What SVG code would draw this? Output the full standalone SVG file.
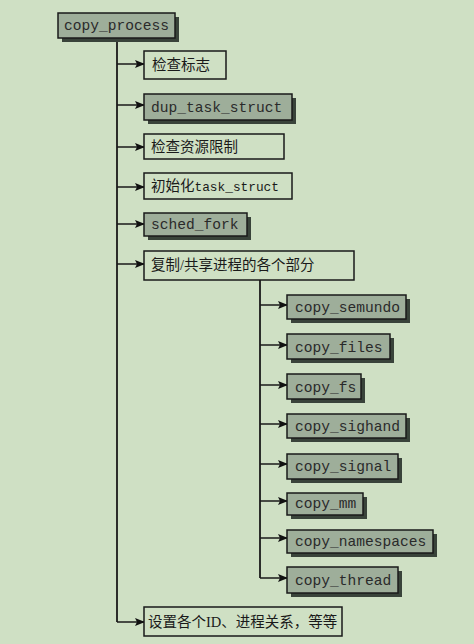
<svg xmlns="http://www.w3.org/2000/svg" width="474" height="644" viewBox="0 0 474 644">
<defs>
<marker id="ah" markerWidth="10" markerHeight="8" refX="9" refY="4" orient="auto" markerUnits="userSpaceOnUse">
<path d="M0,0 L10,4 L0,8 L2,4 Z" fill="#111"/>
</marker>
</defs>
<style>
.bg{fill:#cfe0c4}
.g{fill:#9eae9a;stroke:#1a1a1a;stroke-width:1.5}
.w{fill:#cfe0c4;stroke:#1a1a1a;stroke-width:1.5}
.sh{fill:#39433a}
.m{font-family:"Liberation Mono","Courier New",monospace;font-size:14.6px;fill:#2a2a2a}
.c{font-family:"Liberation Serif","Noto Sans CJK SC",serif;font-size:14.5px;fill:#1a1a1a}
.cm{font-family:"Liberation Mono",monospace;font-size:12.8px}
.e{fill:none;stroke:#1a1a1a;stroke-width:1.8}
.a{fill:none;stroke:#1a1a1a;stroke-width:1.5;marker-end:url(#ah)}
</style>
<rect class="bg" x="0" y="0" width="474" height="644"/>
<g id="connectors">
<path class="e" d="M117,38 V622"/>
<path class="a" d="M117,64 H144"/>
<path class="a" d="M117,105 H144"/>
<path class="a" d="M117,147 H144"/>
<path class="a" d="M117,187 H144"/>
<path class="a" d="M117,224 H144"/>
<path class="a" d="M117,264 H144"/>
<path class="a" d="M117,622 H144"/>
<path class="e" d="M260,280 V578"/>
<path class="a" d="M260,305 H287"/>
<path class="a" d="M260,345 H287"/>
<path class="a" d="M260,385 H287"/>
<path class="a" d="M260,424 H287"/>
<path class="a" d="M260,464 H287"/>
<path class="a" d="M260,501 H287"/>
<path class="a" d="M260,538 H287"/>
<path class="a" d="M260,578 H287"/>
</g>
<g id="copy_process">
<rect class="sh" x="62" y="17" width="117" height="25"/>
<rect class="g" x="58" y="13" width="117" height="25"/>
<text class="m" x="116.5" y="30" text-anchor="middle">copy_process</text>
</g>
<g id="check_flags">
<rect class="w" x="144" y="51" width="82" height="28"/>
<text class="c" x="152" y="70">检查标志</text>
</g>
<g id="dup_task_struct">
<rect class="sh" x="148" y="98" width="148" height="26"/>
<rect class="g" x="144" y="94" width="148" height="26"/>
<text class="m" x="151" y="112">dup_task_struct</text>
</g>
<g id="check_limits">
<rect class="w" x="144" y="134" width="140" height="25"/>
<text class="c" x="151" y="152">检查资源限制</text>
</g>
<g id="init_task_struct">
<rect class="w" x="144" y="173" width="148" height="26"/>
<text class="c" x="151" y="191">初始化<tspan class="cm">task_struct</tspan></text>
</g>
<g id="sched_fork">
<rect class="sh" x="148" y="217" width="103" height="23"/>
<rect class="g" x="144" y="213" width="103" height="23"/>
<text class="m" x="151" y="229">sched_fork</text>
</g>
<g id="copy_share">
<rect class="w" x="144" y="251" width="210" height="29"/>
<text class="c" x="151" y="270">复制/共享进程的各个部分</text>
</g>
<g id="copy_semundo">
<rect class="sh" x="291" y="299" width="119" height="24"/>
<rect class="g" x="287" y="295" width="119" height="24"/>
<text class="m" x="295" y="312">copy_semundo</text>
</g>
<g id="copy_files">
<rect class="sh" x="291" y="338" width="103" height="25"/>
<rect class="g" x="287" y="334" width="103" height="25"/>
<text class="m" x="295" y="352">copy_files</text>
</g>
<g id="copy_fs">
<rect class="sh" x="291" y="378" width="74" height="25"/>
<rect class="g" x="287" y="374" width="74" height="25"/>
<text class="m" x="295" y="392">copy_fs</text>
</g>
<g id="copy_sighand">
<rect class="sh" x="291" y="418" width="119" height="24"/>
<rect class="g" x="287" y="414" width="119" height="24"/>
<text class="m" x="295" y="431">copy_sighand</text>
</g>
<g id="copy_signal">
<rect class="sh" x="291" y="458" width="111" height="25"/>
<rect class="g" x="287" y="454" width="111" height="25"/>
<text class="m" x="295" y="471">copy_signal</text>
</g>
<g id="copy_mm">
<rect class="sh" x="291" y="497" width="76" height="22"/>
<rect class="g" x="287" y="493" width="76" height="22"/>
<text class="m" x="295" y="508">copy_mm</text>
</g>
<g id="copy_namespaces">
<rect class="sh" x="291" y="534" width="146" height="23"/>
<rect class="g" x="287" y="530" width="146" height="23"/>
<text class="m" x="295" y="546">copy_namespaces</text>
</g>
<g id="copy_thread">
<rect class="sh" x="291" y="571" width="111" height="26"/>
<rect class="g" x="287" y="567" width="111" height="26"/>
<text class="m" x="295" y="585">copy_thread</text>
</g>
<g id="set_ids">
<rect class="w" x="144" y="607" width="198" height="29"/>
<text class="c" x="148" y="627">设置各个ID、进程关系，等等</text>
</g>
</svg>
